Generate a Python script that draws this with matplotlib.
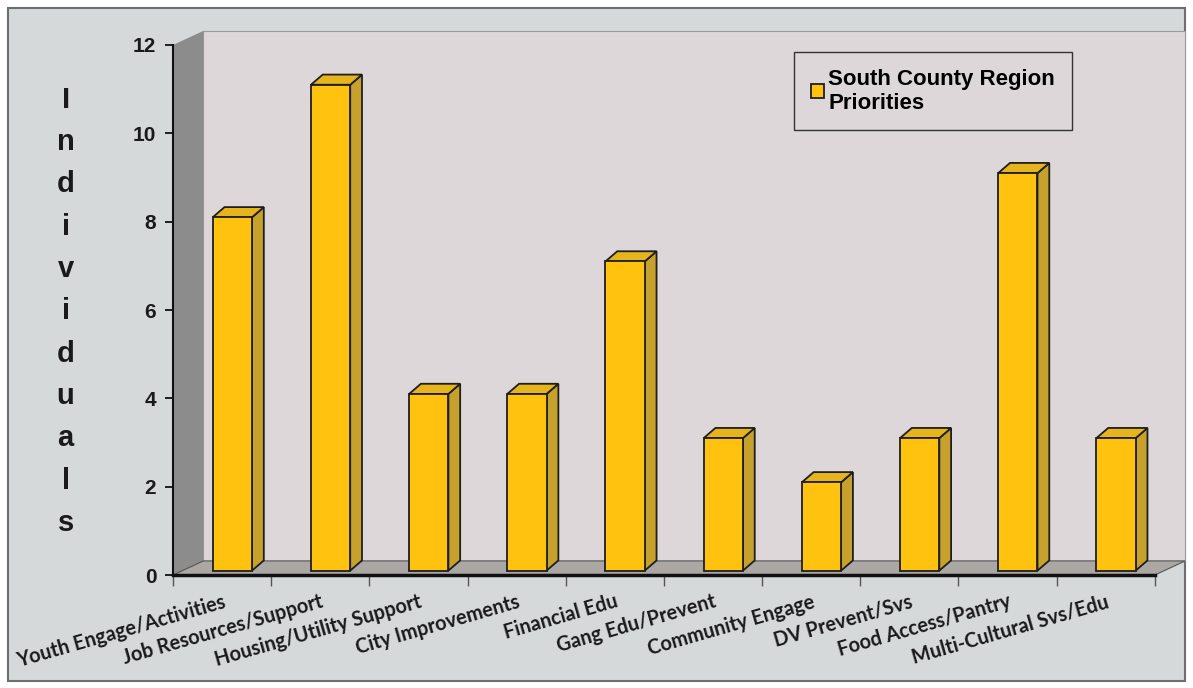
import numpy as np
import matplotlib
matplotlib.use('Agg')
import matplotlib.pyplot as plt
from matplotlib.patches import Polygon, Rectangle

# data
categories = ['Youth Engage/Activities', 'Job Resources/Support', 'Housing/Utility Support',
              'City Improvements', 'Financial Edu', 'Gang Edu/Prevent', 'Community Engage',
              'DV Prevent/Svs', 'Food Access/Pantry', 'Multi-Cultural Svs/Edu']
values = [8, 11, 4, 4, 7, 3, 2, 3, 9, 3]
series_name = 'South County Region\nPriorities'
y_ticks = [0, 2, 4, 6, 8, 10, 12]
y_label = 'Individuals'

front_col = '#ffc20e'
side_col = '#c6a12c'
top_col = '#e6b41c'
wall_col = '#ddd7d9'
floor_col = '#aaa7a4'
bg_col = '#d5d9da'

fig = plt.figure(figsize=(11.93, 6.88), dpi=100)
fig.patch.set_facecolor('white')
fig.patches.append(Rectangle((0.007, 0.01), 0.986, 0.978, transform=fig.transFigure,
                             facecolor=bg_col, edgecolor='#6e6e6e', lw=1.5, zorder=-10))

ax = fig.add_axes([0.145, 0.1642, 0.823, 0.7704])
ax.set_facecolor('none')
ax.set_xlim(-0.5, len(categories) - 0.5)
ax.set_ylim(0, 12)

# 3d box: back wall, side wall, floor
dx, dy = 0.31, 0.32
n = len(categories)
ax.add_patch(Rectangle((-0.5 + dx, dy), n, 12, facecolor=wall_col, edgecolor='#9a9a9a',
                       lw=0.8, clip_on=False, zorder=0))
ax.add_patch(Polygon([(-0.5, 0), (-0.5 + dx, dy), (-0.5 + dx, 12 + dy), (-0.5, 12)],
                     closed=True, facecolor='#8c8c8c', edgecolor='none', clip_on=False, zorder=0))
ax.add_patch(Polygon([(-0.5, 0), (n - 0.5, 0), (n - 0.5 + dx, dy), (-0.5 + dx, dy)],
                     closed=True, facecolor=floor_col, edgecolor='#555555', lw=0.8,
                     clip_on=False, zorder=0))

# bars
x = np.arange(n)
w, b, bdx, bdy = 0.4, 0.1, 0.12, 0.23
bars = ax.bar(x + 0.105, values, width=w, bottom=b, color=front_col, edgecolor='#1e1e1e',
              lw=1.3, zorder=3, label=series_name)
for rect, v in zip(bars, values):
    xl = rect.get_x()
    xr = xl + w
    ax.add_patch(Polygon([(xr, b), (xr + bdx, b + bdy), (xr + bdx, b + v + bdy), (xr, b + v)],
                         closed=True, facecolor=side_col, edgecolor='#1e1e1e', lw=1.3,
                         clip_on=False, zorder=2))
    ax.add_patch(Polygon([(xl, b + v), (xr, b + v), (xr + bdx, b + v + bdy), (xl + bdx, b + v + bdy)],
                         closed=True, facecolor=top_col, edgecolor='#1e1e1e', lw=1.3,
                         clip_on=False, zorder=2))

# axes lines and ticks
for s in ['top', 'right']:
    ax.spines[s].set_visible(False)
ax.spines['left'].set_color('#111111')
ax.spines['left'].set_linewidth(1.5)
ax.spines['bottom'].set_color('#111111')
ax.spines['bottom'].set_linewidth(2.5)
ax.set_yticks(y_ticks)
ax.set_yticklabels([str(t) for t in y_ticks], fontfamily='Liberation Sans', fontweight='bold',
                   fontsize=15, color='#1a1a1a')
ax.tick_params(axis='y', direction='out', length=6, width=1.2, pad=6)

ax.set_xticks(x)
ax.set_xticks(np.arange(-0.5, n, 1), minor=True)
ax.tick_params(axis='x', which='major', length=0, pad=12)
ax.tick_params(axis='x', which='minor', length=8, width=1, color='#555555', direction='out')
ax.set_xticklabels(categories, rotation=16, ha='right', va='top', rotation_mode='anchor',
                   fontfamily='Lato', fontweight='bold', fontsize=14.3, color='#1a1a1a')

# stacked y label
for i, ch in enumerate(y_label):
    fig.text(0.055, 0.855 - i * 0.0615, ch, ha='center', va='center', fontfamily='Liberation Sans',
             fontweight='bold', fontsize=21, color='#1a1a1a')

leg = ax.legend(loc='upper right', bbox_to_anchor=(0.9155, 0.987), borderaxespad=0,
                frameon=True, fancybox=False,
                prop={'family': 'Liberation Sans', 'weight': 'bold', 'size': 16},
                handlelength=0.6, handleheight=0.6, handletextpad=0.2, borderpad=0.75,
                labelspacing=0.3, facecolor=wall_col, edgecolor='#333333', framealpha=1)
leg.get_frame().set_linewidth(1.0)

fig.savefig('out.png', dpi=100, facecolor=fig.get_facecolor())
